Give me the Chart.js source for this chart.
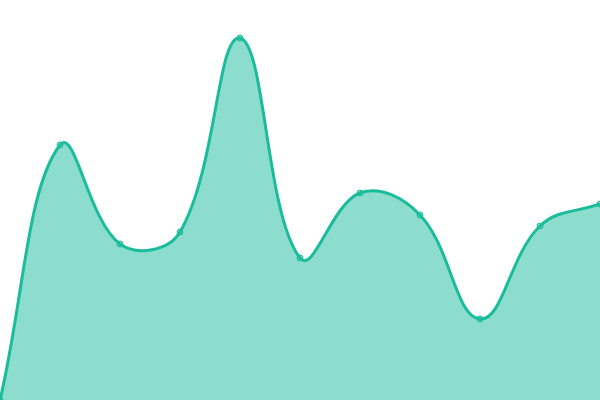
<!DOCTYPE html>
<html>
<head>
<meta charset="utf-8">
<script src="https://cdn.jsdelivr.net/npm/chart.js@4"></script>
<style>
html,body{margin:0;padding:0;background:#fff;}
#wrap{width:600px;height:400px;position:relative;}
</style>
</head>
<body>
<div id="wrap"><canvas id="c"></canvas></div>
<script>
const labels = ["1","2","3","4","5","6","7","8","9","10","11"];
const values = [0, 63.75, 39, 42, 90.5, 35.5, 51.75, 46.25, 20.25, 43.5, 49];

new Chart(document.getElementById('c'), {
  type: 'line',
  data: {
    labels: labels,
    datasets: [{
      data: values,
      borderColor: '#1abc9c',
      backgroundColor: 'rgba(26,188,156,0.5)',
      pointBackgroundColor: 'rgba(26,188,156,0.5)',
      pointBorderColor: '#1abc9c',
      pointRadius: 3,
      pointBorderWidth: 1,
      borderWidth: 3,
      tension: 0.4,
      fill: true
    }]
  },
  options: {
    responsive: true,
    maintainAspectRatio: false,
    animation: false,
    layout: { padding: 0, autoPadding: false },
    plugins: { legend: { display: false }, tooltip: { enabled: false } },
    scales: {
      x: { display: false, offset: false },
      y: { display: false, min: 0, max: 100 }
    }
  }
});
</script>
</body>
</html>
